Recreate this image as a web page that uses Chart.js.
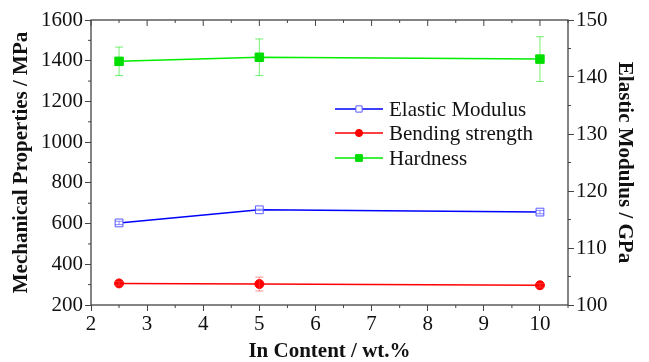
<!DOCTYPE html>
<html>
<head>
<meta charset="utf-8">
<script src="https://cdn.jsdelivr.net/npm/chart.js@4/dist/chart.umd.min.js"></script>
<style>
    html, body { margin: 0; padding: 0; background: #fff; }
    #chartBox { width: 649px; height: 362px; }
</style>
</head>
<body>
<div id="chartBox"><canvas id="propsChart"></canvas></div>
<script>
// --- Data ---
const inContent = [2.5, 5, 10];
const elasticModulus = [114.4, 116.7, 116.3];
const elasticErr = [0.3, 0.1, 0.3];
const bendingStrength = [306, 303, 297];
const bendingErr = [9, 34, 9];
const hardness = [1397, 1417, 1408];
const hardnessErr = [70, 90, 110];

const xTicks = [2, 3, 4, 5, 6, 7, 8, 9, 10];
const xMinor = [2.5, 3.5, 4.5, 5.5, 6.5, 7.5, 8.5, 9.5, 10.5];
const leftTicks = [200, 400, 600, 800, 1000, 1200, 1400, 1600];
const leftMinor = [300, 500, 700, 900, 1100, 1300, 1500];
const rightTicks = [100, 110, 120, 130, 140, 150];
const rightMinor = [105, 115, 125, 135, 145];

const serif = 'Liberation Serif, Times New Roman, serif';
const axisColor = '#444';
const textColor = '#111';

Chart.defaults.font.family = serif;
Chart.defaults.color = textColor;

function toPoints(ys) {
    return inContent.map((x, i) => ({ x: x, y: ys[i] }));
}

// --- Error bars, drawn through each dataset's own scale ---
const errorBarPlugin = {
    id: 'errorBars',
    afterDatasetsDraw(chart) {
        const ctx = chart.ctx;
        const xScale = chart.scales.x;
        chart.data.datasets.forEach(ds => {
            const yScale = chart.scales[ds.yAxisID];
            ctx.save();
            ctx.strokeStyle = ds.errColor;
            ctx.lineWidth = 1;
            ds.data.forEach((p, i) => {
                const e = ds.errors[i];
                const px = xScale.getPixelForValue(p.x);
                const top = yScale.getPixelForValue(p.y + e);
                const bot = yScale.getPixelForValue(p.y - e);
                ctx.beginPath();
                ctx.moveTo(px, top); ctx.lineTo(px, bot);
                ctx.moveTo(px - 4, top); ctx.lineTo(px + 4, top);
                ctx.moveTo(px - 4, bot); ctx.lineTo(px + 4, bot);
                ctx.stroke();
            });
            ctx.restore();
        });
    }
};

// --- Frame, top ticks and minor ticks ---
const framePlugin = {
    id: 'frame',
    afterDraw(chart) {
        const ctx = chart.ctx;
        const a = chart.chartArea;
        const x = chart.scales.x, y = chart.scales.y, y2 = chart.scales.y2;
        ctx.save();
        ctx.strokeStyle = axisColor;
        ctx.lineWidth = 1.3;
        ctx.strokeRect(a.left, a.top, a.right - a.left, a.bottom - a.top);
        ctx.lineWidth = 1;
        ctx.beginPath();
        xTicks.forEach(v => {
            const px = x.getPixelForValue(v);
            ctx.moveTo(px, a.top); ctx.lineTo(px, a.top + 6);
        });
        xMinor.forEach(v => {
            const px = x.getPixelForValue(v);
            ctx.moveTo(px, a.top); ctx.lineTo(px, a.top + 3);
            ctx.moveTo(px, a.bottom); ctx.lineTo(px, a.bottom + 3);
        });
        leftMinor.forEach(v => {
            const py = y.getPixelForValue(v);
            ctx.moveTo(a.left, py); ctx.lineTo(a.left - 3, py);
        });
        rightMinor.forEach(v => {
            const py = y2.getPixelForValue(v);
            ctx.moveTo(a.right, py); ctx.lineTo(a.right + 3, py);
        });
        ctx.stroke();
        ctx.restore();
    }
};

// --- Legend inside the plot area ---
const insideLegendPlugin = {
    id: 'insideLegend',
    afterDraw(chart) {
        const ctx = chart.ctx;
        const rows = [109, 133, 158];
        ctx.save();
        ctx.font = '21px ' + serif;
        ctx.textBaseline = 'middle';
        chart.data.datasets.forEach((ds, i) => {
            const yy = rows[i];
            ctx.strokeStyle = ds.borderColor;
            ctx.lineWidth = 1.5;
            ctx.beginPath();
            ctx.moveTo(335, yy); ctx.lineTo(383, yy);
            ctx.stroke();
            ctx.fillStyle = ds.pointBackgroundColor;
            ctx.strokeStyle = ds.pointBorderColor;
            ctx.lineWidth = 1;
            ctx.beginPath();
            const r = ds.pointRadius * 0.8;
            if (ds.pointStyle === 'circle') {
                ctx.arc(359, yy, r, 0, Math.PI * 2);
            } else {
                const s = r * Math.SQRT1_2;
                ctx.rect(359 - s, yy - s, 2 * s, 2 * s);
            }
            ctx.fill();
            ctx.stroke();
            ctx.fillStyle = textColor;
            ctx.fillText(ds.label, 389, yy + 1);
        });
        ctx.restore();
    }
};

const tickFont = { family: serif, size: 21 };
const titleFont = { family: serif, size: 21, weight: 'bold' };
const xTitleFont = { family: serif, size: 21, weight: 'bold', lineHeight: 1 };
const plainLabel = v => String(v);

const ctx = document.getElementById('propsChart').getContext('2d');
new Chart(ctx, {
    type: 'line',
    data: {
        datasets: [
            {
                label: 'Elastic Modulus', data: toPoints(elasticModulus), yAxisID: 'y2',
                errors: elasticErr, errColor: 'rgba(60,60,255,0.6)',
                borderColor: '#0000ff', borderWidth: 1.5,
                pointStyle: 'rect', pointRadius: 5.5,
                pointBackgroundColor: '#ffffff', pointBorderColor: '#5a5aff', pointBorderWidth: 1
            },
            {
                label: 'Bending strength', data: toPoints(bendingStrength), yAxisID: 'y',
                errors: bendingErr, errColor: 'rgba(255,70,70,0.6)',
                borderColor: '#ff0000', borderWidth: 1.5,
                pointStyle: 'circle', pointRadius: 4.5,
                pointBackgroundColor: '#ff0000', pointBorderColor: '#ff0000', pointBorderWidth: 1
            },
            {
                label: 'Hardness', data: toPoints(hardness), yAxisID: 'y',
                errors: hardnessErr, errColor: 'rgba(0,225,0,0.55)',
                borderColor: '#00ee00', borderWidth: 1.5,
                pointStyle: 'rect', pointRadius: 6,
                pointBackgroundColor: '#00dd00', pointBorderColor: '#00dd00', pointBorderWidth: 1
            }
        ]
    },
    options: {
        responsive: true,
        maintainAspectRatio: false,
        animation: false,
        layout: { padding: { top: 20, left: 0, right: 0, bottom: 0 } },
        plugins: { legend: { display: false }, tooltip: { enabled: false } },
        elements: { line: { tension: 0 } },
        scales: {
            x: {
                type: 'linear', position: 'bottom', min: 2, max: 10.5,
                afterBuildTicks: s => { s.ticks = xTicks.map(v => ({ value: v })); },
                afterFit: s => { s.height = 57; },
                grid: { drawOnChartArea: false, drawTicks: true, tickLength: 6, color: axisColor },
                border: { display: false },
                ticks: { font: tickFont, color: textColor, padding: 1, maxRotation: 0, callback: plainLabel },
                title: { display: true, text: 'In Content / wt.%', font: xTitleFont, color: textColor, padding: { top: 0, bottom: 0 } }
            },
            y: {
                type: 'linear', position: 'left', min: 200, max: 1600,
                afterBuildTicks: s => { s.ticks = leftTicks.map(v => ({ value: v })); },
                afterFit: s => { s.width = 91; },
                grid: { drawOnChartArea: false, drawTicks: true, tickLength: 6, color: axisColor },
                border: { display: false },
                ticks: { font: tickFont, color: textColor, padding: 2, callback: plainLabel },
                title: { display: true, text: 'Mechanical Properties / MPa', font: titleFont, color: textColor, padding: { top: 9, bottom: 0 } }
            },
            y2: {
                type: 'linear', position: 'right', min: 100, max: 150,
                afterBuildTicks: s => { s.ticks = rightTicks.map(v => ({ value: v })); },
                afterFit: s => { s.width = 81; },
                grid: { drawOnChartArea: false, drawTicks: true, tickLength: 6, color: axisColor },
                border: { display: false },
                ticks: { font: tickFont, color: textColor, padding: 2, callback: plainLabel },
                title: { display: true, text: 'Elastic Modulus / GPa', font: titleFont, color: textColor, padding: { top: 12, bottom: 0 } }
            }
        }
    },
    plugins: [errorBarPlugin, framePlugin, insideLegendPlugin]
});
</script>
</body>
</html>
